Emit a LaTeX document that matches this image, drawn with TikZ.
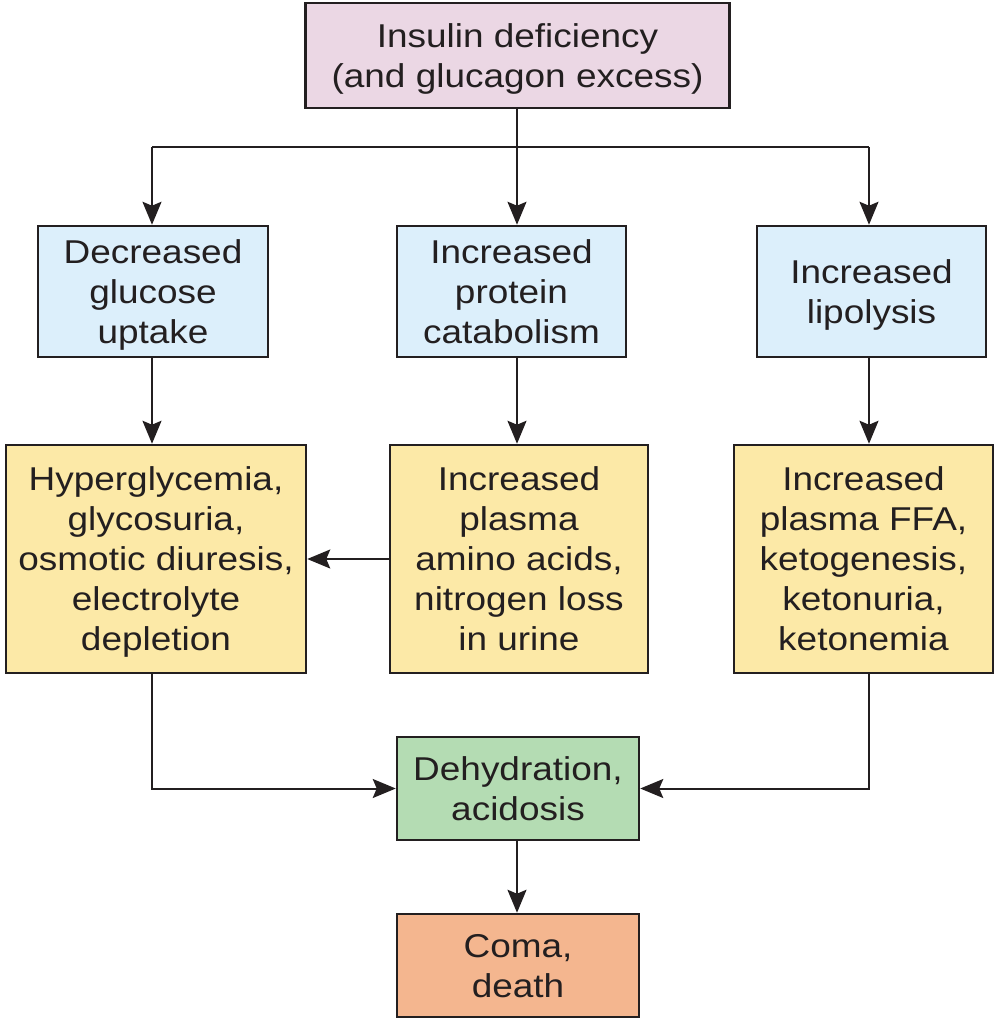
\documentclass[tikz,border=0pt]{standalone}
\usepackage{fontspec}
\setmainfont[FakeStretch=1.12]{Liberation Sans}
\usetikzlibrary{arrows.meta}
\definecolor{cpink}{HTML}{EBD7E4}
\definecolor{cblue}{HTML}{DCEFFB}
\definecolor{cyel}{HTML}{FCE9A7}
\definecolor{cgreen}{HTML}{B4DCB3}
\definecolor{corange}{HTML}{F4B68F}
\definecolor{cline}{HTML}{231F20}
\tikzset{
  box/.style={draw=cline, line width=2.5pt, rectangle, align=center, inner sep=0pt,
    font=\fontsize{33}{40}\selectfont, text=cline, text depth=0pt},
  conn/.style={draw=cline, line width=2pt},
  arr/.style={conn, -{Stealth[length=23pt,width=19pt,inset=4pt]}}
}
\begin{document}
\begin{tikzpicture}[x=1pt,y=-1pt]
\useasboundingbox (0,0) rectangle (1002,1021);
\node[box, fill=cpink, minimum width=424pt, minimum height=105pt] (top) at (517.5,55.5) {Insulin deficiency\\(and glucagon excess)};
\node[box, fill=cblue, minimum width=230pt, minimum height=131pt] (b1) at (153,291.5) {Decreased\\glucose\\uptake};
\node[box, fill=cblue, minimum width=229pt, minimum height=131pt] (b2) at (511.5,291.5) {Increased\\protein\\catabolism};
\node[box, fill=cblue, minimum width=229pt, minimum height=131pt] (b3) at (871.5,291.5) {Increased\\lipolysis};
\node[box, fill=cyel, minimum width=300pt, minimum height=228pt] (y1) at (156,559) {Hyperglycemia,\\glycosuria,\\osmotic diuresis,\\electrolyte\\depletion};
\node[box, fill=cyel, minimum width=258pt, minimum height=228pt] (y2) at (519,559) {Increased\\plasma\\amino acids,\\nitrogen loss\\in urine};
\node[box, fill=cyel, minimum width=259pt, minimum height=228pt] (y3) at (863.5,559) {Increased\\plasma FFA,\\ketogenesis,\\ketonuria,\\ketonemia};
\node[box, fill=cgreen, minimum width=242pt, minimum height=103pt] (g) at (518,788.5) {Dehydration,\\acidosis};
\node[box, fill=corange, minimum width=242pt, minimum height=103pt] (o) at (518,965.5) {Coma,\\death};
\coordinate (cl) at (152,147);
\coordinate (cm) at (517,147);
\coordinate (cr) at (869,147);
\draw[conn] (top.south -| cm) -- (cm);
\draw[conn] (cl) -- (cr);
\draw[arr] (cl) -- (b1.north -| cl);
\draw[arr] (cm) -- (b2.north -| cm);
\draw[arr] (cr) -- (b3.north -| cr);
\draw[arr] (b1.south -| cl) -- (y1.north -| cl);
\draw[arr] (b2.south -| cm) -- (y2.north -| cm);
\draw[arr] (b3.south -| cr) -- (y3.north -| cr);
\draw[arr] (y2.west) -- (y1.east);
\draw[arr] (y1.south -| cl) |- (g.west);
\draw[arr] (y3.south -| cr) |- (g.east);
\draw[arr] (g.south -| cm) -- (o.north -| cm);
\end{tikzpicture}
\end{document}
